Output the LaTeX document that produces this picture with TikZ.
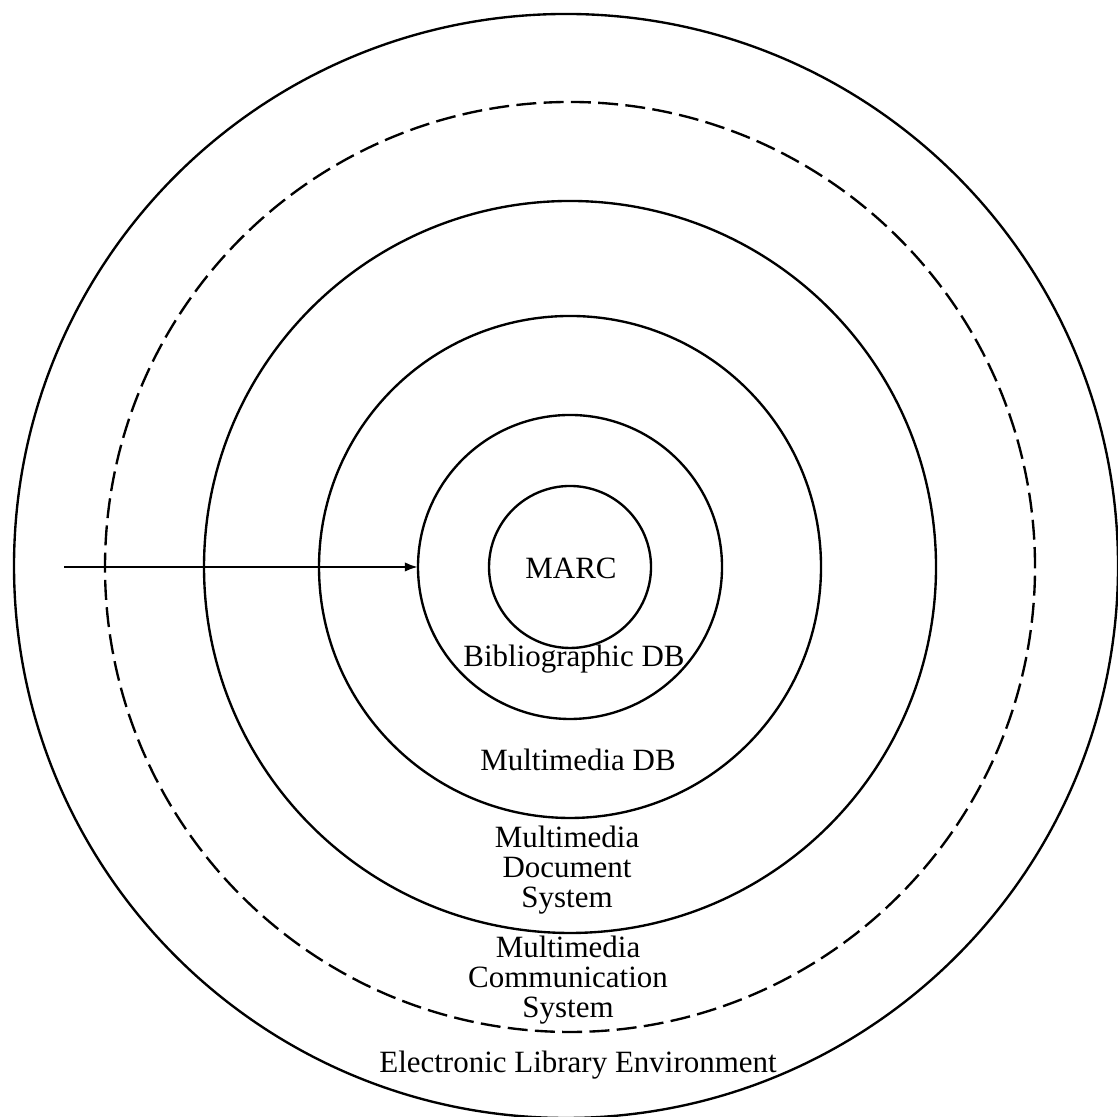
\documentclass[tikz,border=0pt]{standalone}
\usepackage{fontspec}
\setmainfont{Liberation Serif}
\usetikzlibrary{arrows.meta}

\begin{document}
\begin{tikzpicture}[x=1pt,y=1pt,scale=.381,
    ring/.style={line width=.9pt},
    ringtext/.style={align=center,inner sep=0pt,font=\fontsize{11.8}{11.4}\selectfont}]
        \useasboundingbox (0, 0) rectangle (1118, 1117);
        \coordinate (ctr) at (570, 550);
        \coordinate (outer) at (566, 551);
        % rings, outside in
        \draw[ring] (outer) circle[radius=552];
        \draw[ring,dash pattern=on 7.6pt off 2.8pt] (ctr) circle[radius=465];
        \draw[ring] (ctr) circle[radius=366];
        \draw[ring] (ctr) circle[radius=251];
        \draw[ring] (ctr) circle[radius=152];
        \draw[ring] (ctr) circle[radius=81];
        % arrow into the bibliographic ring
        \coordinate (tail) at (64, 550);
        \coordinate (tip) at (418, 550);
        \draw[ring,-{Latex[length=5pt,width=3.6pt]}] (tail) -- (tip);
        \node[ringtext] (marc) at (571, 549) {MARC};
        \node[ringtext] (biblio) at (574, 458) {Bibliographic DB};
        \node[ringtext] (mmdb) at (578, 357) {Multimedia DB};
        \node[ringtext] (mmdoc) at (567, 247) {Multimedia\\Document\\System};
        \node[ringtext] (mmcom) at (568, 137) {Multimedia\\Communication\\System};
        \node[ringtext] (elib) at (578, 52) {Electronic Library Environment};
    \end{tikzpicture}
\end{document}
